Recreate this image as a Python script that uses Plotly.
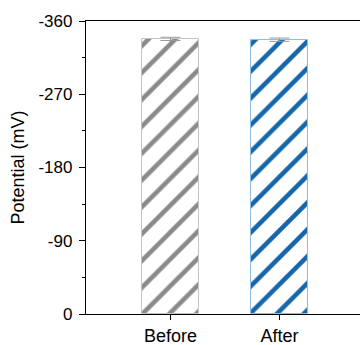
import plotly.graph_objects as go

categories = ["Before", "After"]
values = [-338, -337]
errors = [2, 2]
fg_colors = ["#8a8a8a", "#1566aa"]
line_colors = ["#c4c4c4", "#8fbde0"]
y_ticks = [0, -90, -180, -270, -360]

fig = go.Figure()
fig.add_trace(go.Bar(
    x=categories, y=values, width=0.53,
    marker=dict(
        color="white",
        line=dict(color=line_colors, width=1),
        pattern=dict(shape="/", fgcolor=fg_colors, bgcolor="white", size=19, solidity=0.24, fillmode="replace"),
    ),
    error_y=dict(type="data", array=errors, color="#9a9a9a", thickness=1, width=10),
    showlegend=False,
))

fig.update_layout(
    width=360, height=345,
    margin=dict(l=86, r=0, t=21, b=31, autoexpand=False),
    paper_bgcolor="white", plot_bgcolor="white",
    font=dict(family="Liberation Sans, Arial, sans-serif", size=17, color="black"),
    bargap=0,
)
fig.update_xaxes(
    range=[-0.775, 1.739], showline=True, linecolor="black", linewidth=1.3,
    mirror=True, ticks="outside", ticklen=5, tickcolor="black", showgrid=False,
    tickfont=dict(size=18), automargin=False,
)
fig.update_yaxes(
    range=[0, -360], tickvals=y_ticks, ticktext=[str(v) for v in y_ticks],
    showline=True, linecolor="black", linewidth=1.3, ticks="outside", ticklen=6,
    tickcolor="black", showgrid=False, zeroline=False,
    minor=dict(tickvals=[-45, -135, -225, -315], ticks="outside", ticklen=3, tickcolor="black"),
    title=dict(text="Potential (mV)", standoff=9, font=dict(size=18)),
    tickfont=dict(size=17), automargin=False, ticklabelstandoff=3,
)

fig.write_html("out.html", config={"displayModeBar": False},
               post_script="document.body.style.margin='0';document.body.style.overflow='hidden';")
